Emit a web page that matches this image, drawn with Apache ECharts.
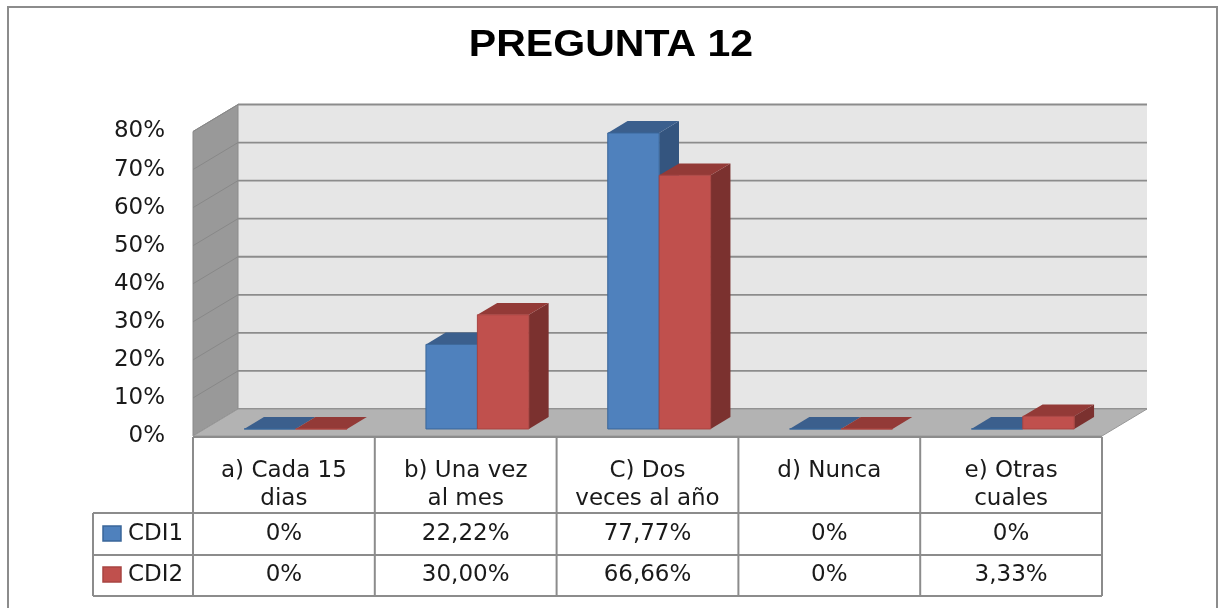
<!DOCTYPE html>
<html>
<head>
<meta charset="utf-8">
<title>PREGUNTA 12</title>
<script src="https://cdn.jsdelivr.net/npm/echarts@6/dist/echarts.min.js"></script>
<style>
  html, body { margin: 0; padding: 0; background: #fff; }
  #chart { width: 1221px; height: 608px; }
</style>
</head>
<body>
<div id="chart"></div>
<script>
// ---- data ----
var categories = ["a) Cada 15\ndias", "b) Una vez\nal mes", "C) Dos\nveces al año", "d) Nunca", "e) Otras\ncuales"];
var seriesNames = ["CDI1", "CDI2"];
var cdi1 = [0, 22.22, 77.77, 0, 0];
var cdi2 = [0, 30.00, 66.66, 0, 3.33];
var yMin = 0, yMax = 80, yStep = 10;

// ---- look ----
var GRID = { left: 193, right: 119, top: 131.5, bottom: 172 };   // front plane of the 3d box
var DX = 45, DY = -27;                 // depth offset front -> back wall
var BAR_Z0 = 0.26, BAR_Z1 = 0.70;      // bar depth inside the box
var BAR_W = 0.283;                     // bar width as share of category band
var FONT = "DejaVu Sans";
var TEXT = "#1a1a1a";
var LINE = "#8c8c8c";
var faces = [
  { front: "#4f81bd", top: "#3b5f8d", side: "#34557f", edge: "#3a6699" },
  { front: "#c0504d", top: "#933a37", side: "#7b312f", edge: "#a84441" }
];

var yTicks = [];
for (var t = yMin; t <= yMax; t += yStep) yTicks.push(t);

function pct(v) {
  return v === 0 ? "0%" : v.toFixed(2).replace(".", ",") + "%";
}

function renderBox(params, api) {
  var cs = params.coordSys;
  var x0 = cs.x, x1 = cs.x + cs.width;
  var yTop = api.coord([0, yMax])[1], yBot = api.coord([0, 0])[1];
  var kids = [];
  kids.push({ type: "polygon", shape: { points: [[x0 + DX, yTop + DY], [x1 + DX, yTop + DY], [x1 + DX, yBot + DY], [x0 + DX, yBot + DY]] },
    style: { fill: "#e6e6e6" } });
  kids.push({ type: "polygon", shape: { points: [[x0, yBot], [x0, yTop], [x0 + DX, yTop + DY], [x0 + DX, yBot + DY]] },
    style: { fill: "#999999", stroke: "#8a8a8a", lineWidth: 1 } });
  yTicks.forEach(function (v) {
    var y = api.coord([0, v])[1];
    kids.push({ type: "line", shape: { x1: x0 + DX, y1: y + DY, x2: x1 + DX, y2: y + DY }, style: { stroke: LINE, lineWidth: 1.8 } });
    kids.push({ type: "line", shape: { x1: x0, y1: y, x2: x0 + DX, y2: y + DY }, style: { stroke: "#888888", lineWidth: 1 } });
  });
  kids.push({ type: "polygon", shape: { points: [[x0, yBot], [x1, yBot], [x1 + DX, yBot + DY], [x0 + DX, yBot + DY]] },
    style: { fill: "#b3b3b3", stroke: "#999999", lineWidth: 1 } });
  return { type: "group", children: kids };
}

function barRenderer(si) {
  var f = faces[si];
  return function (params, api) {
    var cat = api.value(0), val = api.value(1);
    var base = api.coord([cat, 0]);
    var top = api.coord([cat, val]);
    var w = api.size([1, 0])[0] * BAR_W;
    var l = base[0] + (si === 0 ? -w : 0) + BAR_Z0 * DX;
    var r = l + w;
    var yb = base[1] + BAR_Z0 * DY, yt = top[1] + BAR_Z0 * DY;
    var dx = (BAR_Z1 - BAR_Z0) * DX, dy = (BAR_Z1 - BAR_Z0) * DY;
    return { type: "group", children: [
      { type: "polygon", shape: { points: [[r, yb], [r + dx, yb + dy], [r + dx, yt + dy], [r, yt]] }, style: { fill: f.side } },
      { type: "polygon", shape: { points: [[l, yt], [r, yt], [r + dx, yt + dy], [l + dx, yt + dy]] }, style: { fill: f.top } },
      { type: "polygon", shape: { points: [[l, yb], [r, yb], [r, yt], [l, yt]] }, style: { fill: f.front, stroke: f.edge, lineWidth: 1 } }
    ] };
  };
}

// ---- data table under the plot ----
function tableGraphics() {
  var g = [];
  var x0 = GRID.left, x1 = 1221 - GRID.right, legL = 93;
  var colW = (x1 - x0) / categories.length;
  var rHead = 437, r1 = 513, r2 = 555, r3 = 596;
  function ln(a, b, c, d) {
    g.push({ type: "line", shape: { x1: a, y1: b, x2: c, y2: d }, style: { stroke: LINE, lineWidth: 2 }, z: 10 });
  }
  ln(x0, rHead, x1, rHead);
  [r1, r2, r3].forEach(function (y) { ln(legL, y, x1, y); });
  ln(legL, r1, legL, r3);
  for (var i = 0; i <= categories.length; i++) ln(x0 + i * colW, rHead, x0 + i * colW, r3);

  categories.forEach(function (c, i) {
    g.push({ type: "text", z: 11, style: { text: c, x: x0 + (i + 0.5) * colW, y: 457, textAlign: "center", textVerticalAlign: "top",
      fontFamily: FONT, fontSize: 23, lineHeight: 28, fill: TEXT } });
  });
  [cdi1, cdi2].forEach(function (vals, si) {
    var cy = si === 0 ? 534 : 575;
    g.push({ type: "rect", z: 11, shape: { x: 103, y: cy - 8, width: 18, height: 15 },
      style: { fill: faces[si].front, stroke: faces[si].edge, lineWidth: 1.5 } });
    g.push({ type: "text", z: 11, style: { text: seriesNames[si], x: 128, y: cy, textAlign: "left", textVerticalAlign: "middle",
      fontFamily: FONT, fontSize: 23, fill: TEXT } });
    vals.forEach(function (v, i) {
      g.push({ type: "text", z: 11, style: { text: pct(v), x: x0 + (i + 0.5) * colW, y: cy, textAlign: "center", textVerticalAlign: "middle",
        fontFamily: FONT, fontSize: 23, fill: TEXT } });
    });
  });
  return g;
}

var chart = echarts.init(document.getElementById("chart"), null, { renderer: "canvas" });
chart.setOption({
  animation: false,
  backgroundColor: "#ffffff",
  grid: GRID,
  xAxis: {
    type: "category",
    data: categories,
    axisLine: { show: false }, axisTick: { show: false }, axisLabel: { show: false }, splitLine: { show: false }
  },
  yAxis: {
    type: "value",
    min: yMin, max: yMax, interval: yStep,
    axisLine: { show: false }, axisTick: { show: false }, splitLine: { show: false },
    axisLabel: { formatter: "{value}%", fontFamily: FONT, fontSize: 23, color: TEXT, margin: 28, padding: [4, 0, 0, 0] }
  },
  graphic: [
    { type: "rect", shape: { x: 8, y: 7, width: 1209, height: 612 }, style: { fill: "none", stroke: LINE, lineWidth: 2 }, z: 0 },
    { type: "text", x: 611, y: 46, scaleX: 1.14, z: 10,
      style: { text: "PREGUNTA 12", textAlign: "center", textVerticalAlign: "middle",
        fontFamily: "Liberation Sans", fontWeight: "bold", fontSize: 36, fill: "#000" } }
  ].concat(tableGraphics()),
  series: [
    { type: "custom", name: "box", clip: false, z: 1, silent: true, renderItem: renderBox, data: [[0, 0]] },
    { type: "custom", name: seriesNames[0], clip: false, z: 2, renderItem: barRenderer(0),
      data: cdi1.map(function (v, i) { return [i, v]; }) },
    { type: "custom", name: seriesNames[1], clip: false, z: 3, renderItem: barRenderer(1),
      data: cdi2.map(function (v, i) { return [i, v]; }) }
  ]
});
</script>
</body>
</html>
